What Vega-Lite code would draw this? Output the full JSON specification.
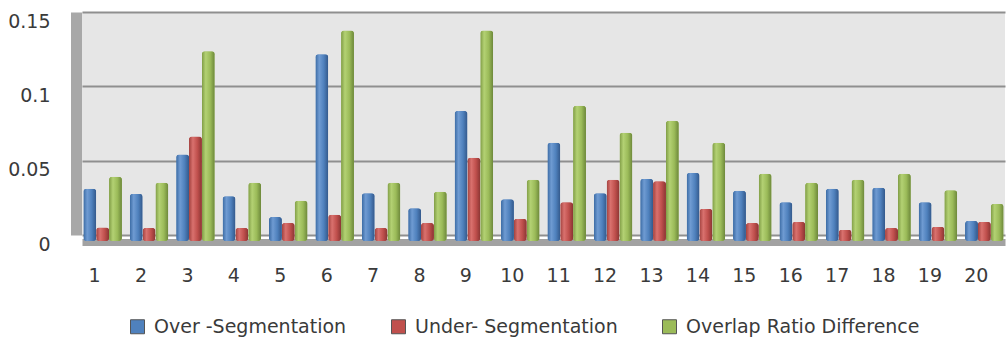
{
  "$schema": "https://vega.github.io/schema/vega-lite/v6.json",
  "autosize": {"type": "none"},
  "padding": {"left": 82, "top": 12, "right": 1, "bottom": 104},
  "width": 923,
  "height": 223,
  "background": "white",
  "config": {
    "view": {"fill": "#e6e6e6", "stroke": null},
    "font": "DejaVu Sans",
    "axis": {"labelFont": "DejaVu Sans", "labelFontSize": 19, "labelColor": "#3a3a3a", "ticks": false, "title": null}
  },
  "data": {
    "values": [
      {"id": 1, "series": "Over -Segmentation", "value": 0.035},
      {"id": 1, "series": "Under- Segmentation", "value": 0.009},
      {"id": 1, "series": "Overlap Ratio Difference", "value": 0.043},
      {"id": 2, "series": "Over -Segmentation", "value": 0.0315},
      {"id": 2, "series": "Under- Segmentation", "value": 0.0087},
      {"id": 2, "series": "Overlap Ratio Difference", "value": 0.039},
      {"id": 3, "series": "Over -Segmentation", "value": 0.058},
      {"id": 3, "series": "Under- Segmentation", "value": 0.07},
      {"id": 3, "series": "Overlap Ratio Difference", "value": 0.127},
      {"id": 4, "series": "Over -Segmentation", "value": 0.03},
      {"id": 4, "series": "Under- Segmentation", "value": 0.0087},
      {"id": 4, "series": "Overlap Ratio Difference", "value": 0.039},
      {"id": 5, "series": "Over -Segmentation", "value": 0.016},
      {"id": 5, "series": "Under- Segmentation", "value": 0.012},
      {"id": 5, "series": "Overlap Ratio Difference", "value": 0.027},
      {"id": 6, "series": "Over -Segmentation", "value": 0.125},
      {"id": 6, "series": "Under- Segmentation", "value": 0.0175},
      {"id": 6, "series": "Overlap Ratio Difference", "value": 0.141},
      {"id": 7, "series": "Over -Segmentation", "value": 0.032},
      {"id": 7, "series": "Under- Segmentation", "value": 0.0087},
      {"id": 7, "series": "Overlap Ratio Difference", "value": 0.039},
      {"id": 8, "series": "Over -Segmentation", "value": 0.022},
      {"id": 8, "series": "Under- Segmentation", "value": 0.012},
      {"id": 8, "series": "Overlap Ratio Difference", "value": 0.033},
      {"id": 9, "series": "Over -Segmentation", "value": 0.087},
      {"id": 9, "series": "Under- Segmentation", "value": 0.0557},
      {"id": 9, "series": "Overlap Ratio Difference", "value": 0.141},
      {"id": 10, "series": "Over -Segmentation", "value": 0.028},
      {"id": 10, "series": "Under- Segmentation", "value": 0.0148},
      {"id": 10, "series": "Overlap Ratio Difference", "value": 0.041},
      {"id": 11, "series": "Over -Segmentation", "value": 0.0658},
      {"id": 11, "series": "Under- Segmentation", "value": 0.026},
      {"id": 11, "series": "Overlap Ratio Difference", "value": 0.0906},
      {"id": 12, "series": "Over -Segmentation", "value": 0.032},
      {"id": 12, "series": "Under- Segmentation", "value": 0.041},
      {"id": 12, "series": "Overlap Ratio Difference", "value": 0.0725},
      {"id": 13, "series": "Over -Segmentation", "value": 0.0416},
      {"id": 13, "series": "Under- Segmentation", "value": 0.04},
      {"id": 13, "series": "Overlap Ratio Difference", "value": 0.0805},
      {"id": 14, "series": "Over -Segmentation", "value": 0.0456},
      {"id": 14, "series": "Under- Segmentation", "value": 0.0215},
      {"id": 14, "series": "Overlap Ratio Difference", "value": 0.0658},
      {"id": 15, "series": "Over -Segmentation", "value": 0.0336},
      {"id": 15, "series": "Under- Segmentation", "value": 0.012},
      {"id": 15, "series": "Overlap Ratio Difference", "value": 0.045},
      {"id": 16, "series": "Over -Segmentation", "value": 0.026},
      {"id": 16, "series": "Under- Segmentation", "value": 0.0128},
      {"id": 16, "series": "Overlap Ratio Difference", "value": 0.039},
      {"id": 17, "series": "Over -Segmentation", "value": 0.035},
      {"id": 17, "series": "Under- Segmentation", "value": 0.0074},
      {"id": 17, "series": "Overlap Ratio Difference", "value": 0.041},
      {"id": 18, "series": "Over -Segmentation", "value": 0.0356},
      {"id": 18, "series": "Under- Segmentation", "value": 0.0087},
      {"id": 18, "series": "Overlap Ratio Difference", "value": 0.045},
      {"id": 19, "series": "Over -Segmentation", "value": 0.026},
      {"id": 19, "series": "Under- Segmentation", "value": 0.0094},
      {"id": 19, "series": "Overlap Ratio Difference", "value": 0.034},
      {"id": 20, "series": "Over -Segmentation", "value": 0.0134},
      {"id": 20, "series": "Under- Segmentation", "value": 0.0128},
      {"id": 20, "series": "Overlap Ratio Difference", "value": 0.0248}
    ]
  },
  "encoding": {
    "x": {
      "field": "id",
      "type": "ordinal",
      "scale": {"paddingInner": 0.17, "paddingOuter": 0.03},
      "axis": {
        "labelAngle": 0,
        "labelPadding": 24,
        "labelOffset": -8,
        "domainColor": "#a2a2a2",
        "domainWidth": 7,
        "offset": 7
      }
    },
    "xOffset": {
      "field": "series",
      "type": "nominal",
      "scale": {"domain": ["Over -Segmentation", "Under- Segmentation", "Overlap Ratio Difference"]}
    }
  },
  "layer": [
    {
      "description": "back wall: grid lines, value labels and the left side wall",
      "mark": {"type": "rule", "opacity": 0},
      "encoding": {
        "y": {
          "datum": 0,
          "type": "quantitative",
          "scale": {"domain": [0, 0.15], "nice": false},
          "axis": {
            "values": [0, 0.05, 0.1, 0.15],
            "format": ".2~f",
            "labelPadding": 26,
            "labelOffset": 9,
            "grid": true,
            "gridColor": "#8f8f8f",
            "gridWidth": 2,
            "domainColor": "#a8a8a8",
            "domainWidth": 11,
            "offset": 6
          }
        }
      }
    },
    {
      "description": "front plane: the bars sit slightly lower than the wall",
      "encoding": {
        "y": {
          "field": "value",
          "type": "quantitative",
          "scale": {"domain": [0, 0.15], "nice": false, "range": [229, 5]},
          "axis": null
        }
      },
      "layer": [
        {
          "mark": {"type": "bar", "cornerRadius": 3},
          "encoding": {
            "color": {
              "field": "series",
              "type": "nominal",
              "scale": {
                "domain": ["Over -Segmentation", "Under- Segmentation", "Overlap Ratio Difference"],
                "range": ["#4f81bd", "#c0504d", "#9bbb59"]
              },
              "legend": {
                "orient": "none",
                "legendX": 46,
                "legendY": 305,
                "direction": "horizontal",
                "title": null,
                "padding": 0,
                "symbolType": "square",
                "symbolSize": 196,
                "symbolOpacity": 1,
                "symbolStrokeWidth": 1,
                "symbolStrokeColor": "#555555",
                "labelFont": "DejaVu Sans",
                "labelFontSize": 19,
                "labelColor": "#3a3a3a",
                "labelLimit": 400,
                "labelOffset": 7,
                "columnPadding": 42
              }
            }
          }
        },
        {
          "transform": [{"filter": "datum.series === 'Over -Segmentation'"}],
          "mark": {"type": "bar", "cornerRadius": 3,
            "fill": {"gradient": "linear", "x1": 0, "y1": 0, "x2": 1, "y2": 0, "stops": [
              {"offset": 0, "color": "#3a6aa3"}, {"offset": 0.3, "color": "#6f9bd2"}, {"offset": 0.65, "color": "#4f81bd"}, {"offset": 1, "color": "#33588a"}]}}
        },
        {
          "transform": [{"filter": "datum.series === 'Under- Segmentation'"}],
          "mark": {"type": "bar", "cornerRadius": 3,
            "fill": {"gradient": "linear", "x1": 0, "y1": 0, "x2": 1, "y2": 0, "stops": [
              {"offset": 0, "color": "#a2413e"}, {"offset": 0.3, "color": "#d9716e"}, {"offset": 0.65, "color": "#c0504d"}, {"offset": 1, "color": "#8a3533"}]}}
        },
        {
          "transform": [{"filter": "datum.series === 'Overlap Ratio Difference'"}],
          "mark": {"type": "bar", "cornerRadius": 3,
            "fill": {"gradient": "linear", "x1": 0, "y1": 0, "x2": 1, "y2": 0, "stops": [
              {"offset": 0, "color": "#7f9c45"}, {"offset": 0.3, "color": "#b3d173"}, {"offset": 0.65, "color": "#9bbb59"}, {"offset": 1, "color": "#6c873a"}]}}
        }
      ]
    }
  ],
  "resolve": {"scale": {"y": "independent"}, "axis": {"y": "independent"}}
}
